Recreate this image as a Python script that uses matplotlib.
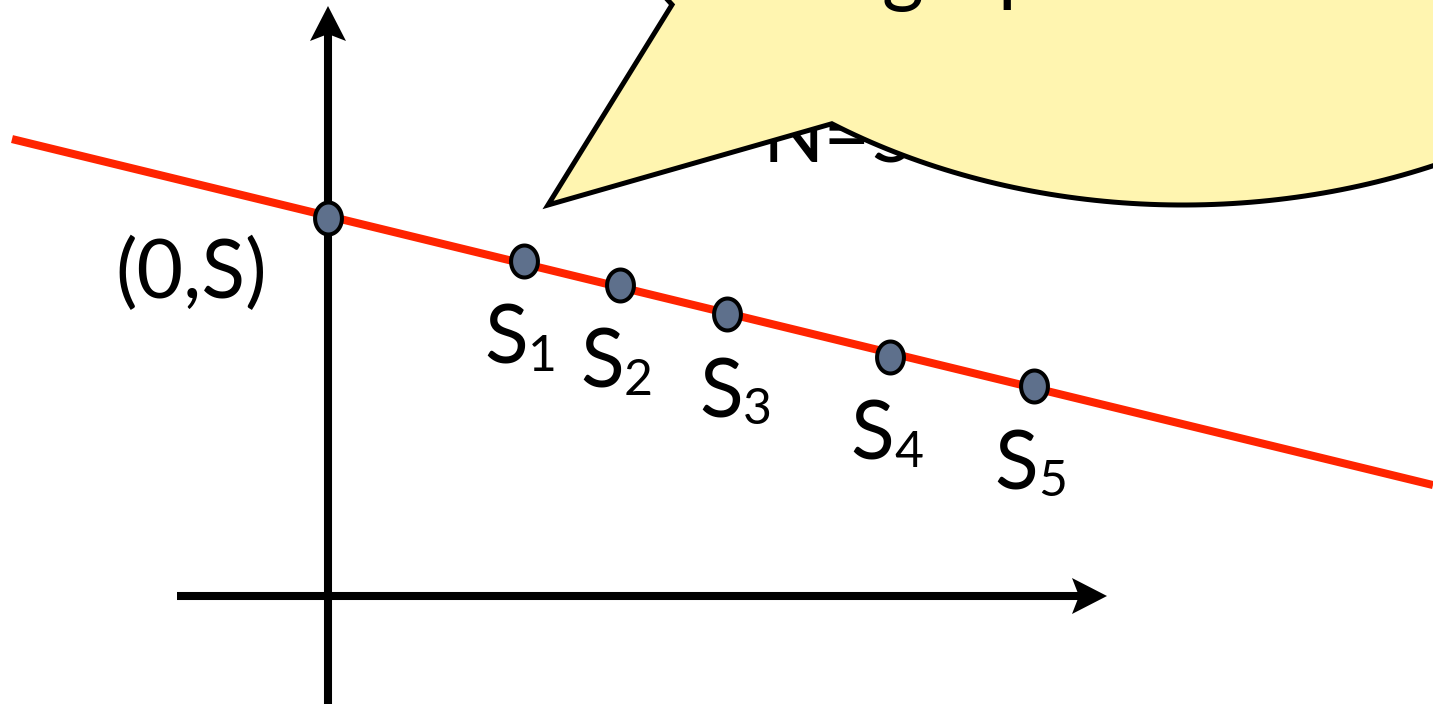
import numpy as np
import matplotlib
matplotlib.use('Agg')
import matplotlib.pyplot as plt
from matplotlib.path import Path
from matplotlib.patches import PathPatch, Polygon

# ---------------- data ----------------
origin_label = '(0,S)'
sample_subscripts = ['1', '2', '3', '4', '5']
point_x = [0, 196, 292, 399, 562, 706]        # first = (0,S)
point_y = [378, 335, 311, 282, 239, 210]
fit_intercept = 380.0
fit_slope = -0.2435
fit_x_range = [-316, 1105]
callout_hidden_text = 'N=5'
callout_top_glyphs = ['g', 'p']

# ---------------- style / layout ----------------
FONT = ['Lato', 'DejaVu Sans']
FS = 58
RED = '#ff2400'
MARKER_FACE = '#5e708c'
BUBBLE_FACE = '#fff5b0'
PX_W, PX_H = 1433, 704
ORIG_PX = (328, 596)

fig = plt.figure(figsize=(PX_W / 100, PX_H / 100), dpi=100)
ax = fig.add_axes([0, 0, 1, 1])
xmin, xmax = -ORIG_PX[0], PX_W - ORIG_PX[0]
ymin, ymax = ORIG_PX[1] - PX_H, ORIG_PX[1]
ax.set_xlim(xmin, xmax)
ax.set_ylim(ymin, ymax)
ax.axis('off')

# ---------------- coordinate axes with arrows ----------------
AX_LW = 5.8
v_tip = ymax - 6
h_tip = 779
h_start = -151
head_len, head_half, notch = 35, 18, 7
ax.plot([0, 0], [ymin - 10, v_tip - head_len + notch + 2], color='black',
        lw=AX_LW, solid_capstyle='butt', zorder=2)
ax.add_patch(Polygon([(0, v_tip), (head_half, v_tip - head_len),
                      (0, v_tip - head_len + notch), (-head_half, v_tip - head_len)],
                     closed=True, facecolor='black', edgecolor='none', zorder=2))
ax.plot([h_start, h_tip - head_len + notch + 2], [0, 0], color='black',
        lw=AX_LW, solid_capstyle='butt', zorder=2)
ax.add_patch(Polygon([(h_tip, 0), (h_tip - head_len, head_half),
                      (h_tip - head_len + notch, 0), (h_tip - head_len, -head_half)],
                     closed=True, facecolor='black', edgecolor='none', zorder=2))

# ---------------- fitted red line ----------------
lx = np.array(fit_x_range, dtype=float)
ax.plot(lx, fit_intercept + fit_slope * lx, color=RED, lw=5.8,
        solid_capstyle='butt', zorder=3)

# ---------------- points ----------------
t = np.linspace(0, 2 * np.pi, 120)
ell = Path(np.column_stack([0.84 * np.cos(t), np.sin(t)]), closed=True)
ax.plot(point_x, point_y, linestyle='none', marker=ell, markersize=23,
        markerfacecolor=MARKER_FACE, markeredgecolor='black',
        markeredgewidth=2.9, zorder=4)

# ---------------- labels ----------------
ax.text(point_x[0] - 137, point_y[0] - 80, origin_label, ha='center',
        va='baseline', fontsize=FS, family=FONT, zorder=5)
label_dx = [0, 0, 12, 0, 0]
for sub, x, y, dx in zip(sample_subscripts, point_x[1:], point_y[1:], label_dx):
    ax.text(x + 4 + dx, y - 103, 'S', ha='right', va='baseline',
            fontsize=FS, family=FONT, zorder=5)
    ax.text(x + 4 + dx, y - 110, sub, ha='left', va='baseline',
            fontsize=FS * 0.62, family=FONT, zorder=5)

# ---------------- callout bubble ----------------
# text partly hidden behind the bubble
ax.text(435, 434, callout_hidden_text, ha='left', va='baseline',
        fontsize=FS, family=FONT, zorder=1)

cx, cy, ea, eb = 855, 853, 620, 462
th = np.deg2rad(np.linspace(235.5, 574.5, 400))
bx = cx + ea * np.cos(th)
by = cy + eb * np.sin(th)
tip = (220, 391)
verts = np.vstack([np.column_stack([bx, by]), [tip], [[bx[0], by[0]]]])
codes = [Path.MOVETO] + [Path.LINETO] * (len(verts) - 2) + [Path.CLOSEPOLY]
ax.add_patch(PathPatch(Path(verts, codes), facecolor=BUBBLE_FACE,
                       edgecolor='black', lw=3.6, joinstyle='miter', zorder=3.5))

# glyphs of bubble text whose descenders peek in from the top edge
ax.text(882 - ORIG_PX[0], ORIG_PX[1] + 4, callout_top_glyphs[0], ha='left',
        va='baseline', fontsize=FS, family=FONT, zorder=6)
ax.text(997 - ORIG_PX[0], ORIG_PX[1] + 4, callout_top_glyphs[1], ha='left',
        va='baseline', fontsize=FS, family=FONT, zorder=6)

fig.savefig('out.png', dpi=100)
